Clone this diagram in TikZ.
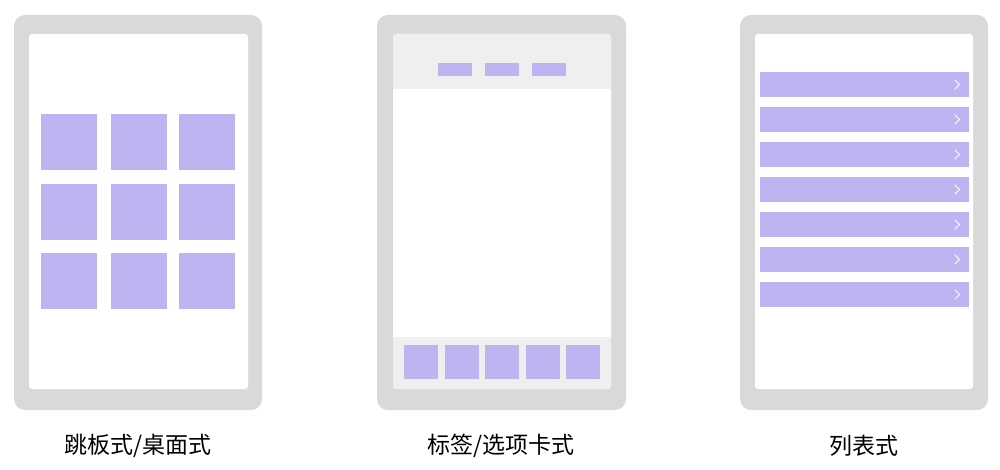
\documentclass[tikz,border=0pt]{standalone}
\usepackage{fontspec}
\newfontfamily\cjk{Noto Sans CJK SC}
\definecolor{frame}{HTML}{D9D9D9}
\definecolor{item}{HTML}{BEB4F2}
\definecolor{bar}{HTML}{EFEFEF}
\begin{document}
\begin{tikzpicture}[x=1pt,y=-1pt,
  outer/.style={fill=frame,rounded corners=11pt},
  screen/.style={fill=white,rounded corners=3pt},
  tile/.style={fill=item},
  chev/.style={draw=white,line width=1pt,line cap=round,line join=round},
  lbl/.style={font=\cjk\fontsize{23}{27}\selectfont,inner sep=0pt}]
\useasboundingbox (0,0) rectangle (1000,470);
\fill[white] (0,0) rectangle (1000,470);
% phone 1
\fill[outer] (14,15) rectangle (262,410);
\fill[screen] (29,34) rectangle (248,389);
\foreach \x in {41,111,179}{
  \foreach \y in {114,184,253}{
    \fill[tile] (\x,\y) rectangle ++(56,56);
  }
}
% phone 2
\fill[outer] (377,15) rectangle (626,410);
\fill[screen] (393,34) rectangle (611,389);
\begin{scope}
\clip[rounded corners=3pt] (393,34) rectangle (611,389);
\fill[bar] (393,34) rectangle (611,89);
\fill[bar] (393,337) rectangle (611,389);
\end{scope}
\foreach \x in {438,485,532}{
  \fill[tile] (\x,63) rectangle ++(34,13);
}
\foreach \x in {404,445,485,526,566}{
  \fill[tile] (\x,345) rectangle ++(34,34);
}
% phone 3
\fill[outer] (740,15) rectangle (988,410);
\fill[screen] (755,34) rectangle (973,389);
\foreach \y in {72,107,142,177,212,247,282}{
  \fill[tile] (760,\y) rectangle ++(209,25);
  \draw[chev] (955,\y+8) -- (959.5,\y+12.5) -- (955,\y+17);
}
% labels
\node[lbl] (l1) at (138,446) {跳板式/桌面式};
\node[lbl] (l2) at (501,446) {标签/选项卡式};
\node[lbl] (l3) at (864,446) {列表式};
\end{tikzpicture}
\end{document}
